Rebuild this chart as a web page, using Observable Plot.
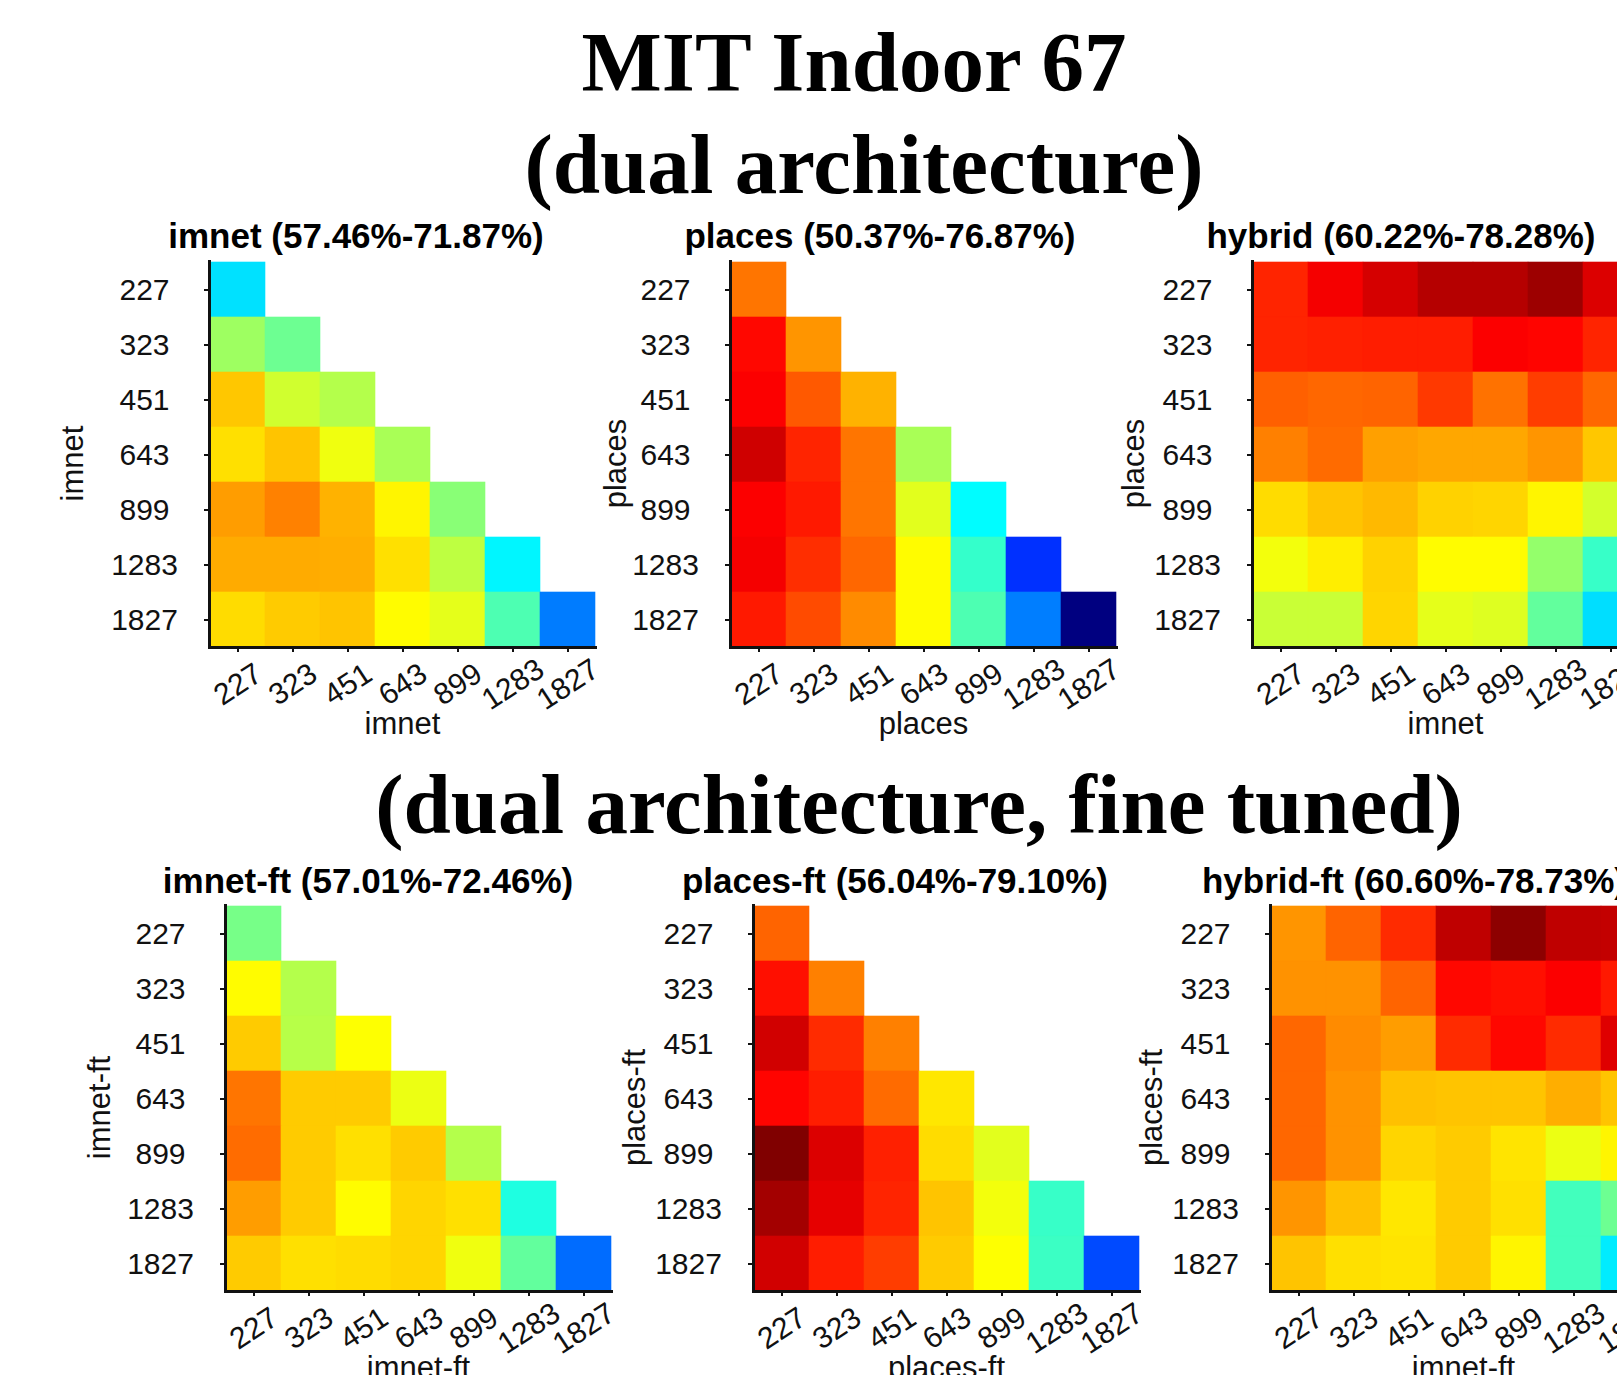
<!DOCTYPE html>
<html>
<head>
<meta charset="utf-8">
<script src="https://cdn.jsdelivr.net/npm/d3@7"></script>
<script src="https://cdn.jsdelivr.net/npm/@observablehq/plot@0.6"></script>
<style>
  html, body { margin: 0; padding: 0; background: #fff; }
  #root { position: relative; width: 1617px; height: 1375px; overflow: hidden; background: #fff; }
  .big { position: absolute; font-family: "Liberation Serif", "Times New Roman", serif; font-weight: bold; font-size: 85px; line-height: 85px; white-space: nowrap; transform: translateX(-50%); color: #000; }
  .ptitle { position: absolute; font-family: "Liberation Sans", Arial, sans-serif; font-weight: bold; font-size: 35px; line-height: 35px; white-space: nowrap; transform: translateX(-50%); color: #000; }
  .panel { position: absolute; }
  .panel svg { max-width: none !important; display: block; }
</style>
</head>
<body>
<div id="root"></div>
<script>
// ---- data ----
const sizes = ["227", "323", "451", "643", "899", "1283", "1827"];
const colorDomain = [50.37, 79.10];

const imnetVals = [
  [60.3],
  [65.6, 64.2],
  [69.9, 67.0, 66.2],
  [69.2, 70.0, 67.9, 65.9],
  [71.1, 71.87, 70.5, 68.6, 65.0],
  [70.7, 70.7, 70.6, 69.2, 66.5, 60.9],
  [69.3, 69.8, 70.0, 68.4, 67.6, 63.3, 57.46]
];
const placesVals = [
  [72.2],
  [75.3, 71.3],
  [75.6, 73.0, 70.5],
  [76.87, 74.5, 72.2, 65.9],
  [75.6, 74.8, 72.2, 67.5, 61.1],
  [75.8, 74.2, 72.6, 68.4, 62.6, 55.3],
  [74.8, 73.4, 71.6, 68.4, 63.3, 57.5, 50.37]
];
const hybridVals = [
  [74.5, 75.8, 76.7, 77.6, 77.6, 78.28, 76.5],
  [74.5, 74.6, 74.7, 74.7, 75.6, 75.4, 74.5],
  [72.8, 72.6, 72.7, 73.9, 72.3, 73.8, 72.6],
  [71.9, 72.5, 71.0, 70.8, 70.8, 71.3, 69.9],
  [69.3, 70.0, 70.3, 69.6, 69.5, 68.6, 67.1],
  [68.0, 68.8, 69.6, 68.4, 68.4, 65.3, 62.7],
  [66.8, 66.8, 69.5, 67.6, 67.4, 63.9, 60.22]
];
const imnetFtVals = [
  [64.5],
  [68.4, 66.2],
  [69.8, 66.3, 68.3],
  [72.2, 69.8, 69.8, 67.8],
  [72.46, 69.8, 69.2, 69.8, 66.2],
  [71.1, 69.8, 68.4, 69.5, 69.2, 62.0],
  [69.8, 69.2, 69.3, 69.5, 67.9, 63.9, 57.01]
];
const placesFtVals = [
  [72.7],
  [75.1, 71.9],
  [76.8, 74.3, 71.9],
  [75.4, 74.7, 72.5, 69.0],
  [79.10, 76.5, 74.6, 69.3, 67.5],
  [78.1, 76.2, 74.5, 70.0, 68.0, 62.7],
  [76.8, 74.7, 73.8, 69.8, 68.3, 62.8, 56.04]
];
const hybridFtVals = [
  [71.3, 72.7, 74.3, 77.3, 78.73, 77.3, 77.2],
  [71.4, 71.4, 72.7, 75.3, 75.1, 75.6, 74.8],
  [72.6, 71.6, 71.1, 74.3, 75.3, 74.3, 76.4],
  [72.6, 71.4, 70.1, 70.0, 70.0, 70.6, 70.0],
  [72.6, 71.4, 69.5, 69.8, 69.1, 67.8, 68.6],
  [71.3, 70.1, 69.0, 69.8, 69.2, 63.0, 64.2],
  [70.0, 69.2, 69.1, 69.8, 68.6, 63.0, 60.60]
];

const headings = ["MIT Indoor 67", "(dual architecture)", "(dual architecture, fine tuned)"];
const panelTitles = [
  "imnet (57.46%-71.87%)", "places (50.37%-76.87%)", "hybrid (60.22%-78.28%)",
  "imnet-ft (57.01%-72.46%)", "places-ft (56.04%-79.10%)", "hybrid-ft (60.60%-78.73%)"
];
const xLabels = ["imnet", "places", "imnet", "imnet-ft", "places-ft", "imnet-ft"];
const yLabels = ["imnet", "places", "places", "imnet-ft", "places-ft", "places-ft"];

// ---- jet colormap ----
function jet(t) {
  const c = v => Math.max(0, Math.min(1, v));
  const r = c(1.5 - Math.abs(4 * t - 3));
  const g = c(1.5 - Math.abs(4 * t - 2));
  const b = c(1.5 - Math.abs(4 * t - 1));
  return `rgb(${Math.round(r * 255)},${Math.round(g * 255)},${Math.round(b * 255)})`;
}

const root = document.getElementById("root");

// ---- headings ----
const headingPos = [[854, 20], [864, 122], [919, 762]];
headings.forEach((h, i) => {
  const d = document.createElement("div");
  d.className = "big";
  d.textContent = h;
  d.style.left = headingPos[i][0] + "px";
  d.style.top = headingPos[i][1] + "px";
  root.appendChild(d);
});

// ---- panels ----
const S = 386, ML = 160, MR = 10, MT = 10, MB = 120;
const layout = [
  {left: 209, top: 261, tx: 356, ty: 218, ylDx: -136},
  {left: 730, top: 261, tx: 880, ty: 218, ylDx: -114},
  {left: 1252, top: 261, tx: 1401, ty: 218, ylDx: -118},
  {left: 225, top: 905, tx: 368, ty: 863, ylDx: -125},
  {left: 753, top: 905, tx: 895, ty: 863, ylDx: -118},
  {left: 1270, top: 905, tx: 1414, ty: 863, ylDx: -118}
];
const allVals = [imnetVals, placesVals, hybridVals, imnetFtVals, placesFtVals, hybridFtVals];

allVals.forEach((vals, k) => {
  const L = layout[k];
  const data = vals.flatMap((row, i) => row.map((v, j) => ({row: sizes[i], col: sizes[j], v})));
  const W = ML + S + MR, H = MT + S + MB;
  const chart = Plot.plot({
    width: W,
    height: H,
    marginLeft: ML, marginRight: MR, marginTop: MT, marginBottom: MB,
    x: {type: "band", domain: sizes, padding: 0},
    y: {type: "band", domain: sizes, padding: 0},
    color: {type: "linear", domain: colorDomain, interpolate: jet},
    style: {fontFamily: "'Liberation Sans', Arial, sans-serif", background: "transparent", color: "#111", overflow: "visible"},
    marks: [
      Plot.cell(data, {x: "col", y: "row", fill: "v", stroke: "v", strokeWidth: 0.6, inset: 0}),
      Plot.axisY({tickSize: 5, tickPadding: 60, textAnchor: "middle", fontSize: 30, label: null, strokeWidth: 2}),
      Plot.axisX({tickSize: 5, tickPadding: 32, tickRotate: -33, textAnchor: "middle", fontSize: 30, label: null, strokeWidth: 2}),
      Plot.frame({anchor: "left", stroke: "#111", strokeWidth: 3}),
      Plot.frame({anchor: "bottom", stroke: "#111", strokeWidth: 3}),
      Plot.text([yLabels[k]], {text: d => d, frameAnchor: "left", textAnchor: "middle", lineAnchor: "middle", dx: L.ylDx, dy: 9, rotate: -90, fontSize: 31}),
      Plot.text([xLabels[k]], {text: d => d, frameAnchor: "bottom", textAnchor: "middle", lineAnchor: "middle", dy: 77, fontSize: 31})
    ]
  });
  const wrap = document.createElement("div");
  wrap.className = "panel";
  wrap.style.left = (L.left - ML) + "px";
  wrap.style.top = (L.top - MT) + "px";
  wrap.style.width = W + "px";
  wrap.style.height = H + "px";
  wrap.appendChild(chart);
  root.appendChild(wrap);

  const t = document.createElement("div");
  t.className = "ptitle";
  t.textContent = panelTitles[k];
  t.style.left = L.tx + "px";
  t.style.top = L.ty + "px";
  root.appendChild(t);
});
</script>
</body>
</html>
